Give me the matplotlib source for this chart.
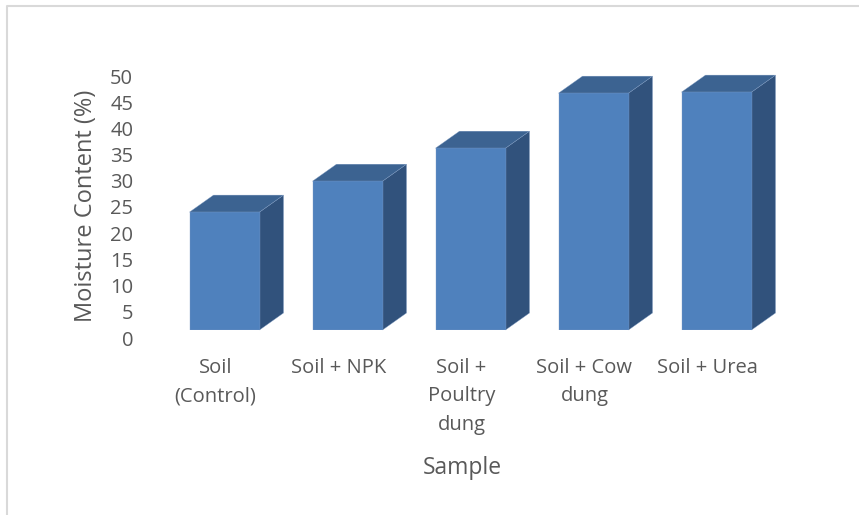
import matplotlib
matplotlib.use('Agg')
import matplotlib.pyplot as plt
from matplotlib.lines import Line2D
from matplotlib.patches import Polygon
from matplotlib.transforms import ScaledTranslation

# Данные
samples = ['Soil\n(Control)', 'Soil + NPK', 'Soil +\nPoultry\ndung', 'Soil + Cow\ndung', 'Soil + Urea']
moisture = [22.5, 28.4, 34.7, 45.2, 45.4]
y_ticks = list(range(0, 55, 5))

plt.rcParams['font.family'] = ['Open Sans', 'DejaVu Sans']
W, H = 859, 515
TEXT = '#595959'
FRONT, SIDE, TOP, EDGE = '#4f81bd', '#31527c', '#3c6391', '#7f9cc4'
bar_w = 70 / 123
depth_x = 24 / 123
depth_y = 17 / 5.24

fig = plt.figure(figsize=(W / 100, H / 100), dpi=100)
ax = fig.add_axes([163 / W, (H - 330) / H, 615 / W, 262 / H])
ax.set_xlim(-0.5, 4.5)
ax.set_ylim(0, 50)
ax.patch.set_alpha(0)
for s in ax.spines.values():
    s.set_visible(False)

# Столбцы: передняя грань + боковая и верхняя грани
ax.bar(range(len(samples)), moisture, width=bar_w, color=FRONT, edgecolor=EDGE, linewidth=0.25, zorder=3)
for i, v in enumerate(moisture):
    l, r = i - bar_w / 2, i + bar_w / 2
    ax.add_patch(Polygon([(r, 0), (r + depth_x, depth_y), (r + depth_x, v + depth_y), (r, v)],
                         facecolor=SIDE, edgecolor=EDGE, linewidth=0.25, clip_on=False, zorder=2))
    ax.add_patch(Polygon([(l, v), (l + depth_x, v + depth_y), (r + depth_x, v + depth_y), (r, v)],
                         facecolor=TOP, edgecolor=EDGE, linewidth=0.25, clip_on=False, zorder=2))

ax.set_yticks(y_ticks)
ax.tick_params(axis='y', length=0, pad=21.5, labelsize=14.5, labelcolor=TEXT)
ax.set_xticks(range(len(samples)))
ax.set_xticklabels(samples, linespacing=1.56)
ax.tick_params(axis='x', length=0, pad=20, labelsize=14.5, labelcolor=TEXT)

# подписи сдвинуты как на объёмной диаграмме Excel
for t in ax.get_yticklabels():
    t.set_transform(t.get_transform() + ScaledTranslation(0, -8 / 100, fig.dpi_scale_trans))
for t in ax.get_xticklabels():
    t.set_transform(t.get_transform() + ScaledTranslation(-9 / 100, 0, fig.dpi_scale_trans))

fig.text(86 / W, 1 - 206 / H, 'Moisture Content (%)', rotation=90, ha='center', va='center', fontsize=17, color=TEXT)
fig.text(462 / W, 1 - 468 / H, 'Sample', ha='center', va='center', fontsize=16.5, color=TEXT)

# Рамка
fig.add_artist(Line2D([6.5 / W, 6.5 / W, 1], [0, 1 - 6 / H, 1 - 6 / H], color='#d9d9d9', linewidth=1.5))

fig.savefig('out.png', dpi=100)
